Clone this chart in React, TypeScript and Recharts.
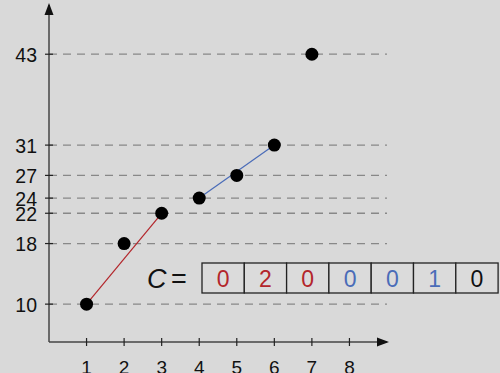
import React from 'react';
import { ComposedChart, Scatter, XAxis, YAxis, ReferenceLine } from 'recharts';

// points on the plot
const xs = [1, 2, 3, 4, 5, 6, 7];
const ys = [10, 18, 22, 24, 27, 31, 43];
const points = xs.map((x, i) => ({ x, y: ys[i] }));

// the two coloured segments
const redSeg = [{ x: 1, y: 10 }, { x: 3, y: 22 }];
const blueSeg = [{ x: 4, y: 24 }, { x: 6, y: 31 }];

const xTicks = [1, 2, 3, 4, 5, 6, 7, 8];
const yTicks = [10, 18, 22, 24, 27, 31, 43];

// C array shown in boxes
const cValues = [0, 2, 0, 0, 0, 1, 0];
const cColors = ['#b3262b', '#b3262b', '#b3262b', '#4a6cb8', '#4a6cb8', '#4a6cb8', '#111'];

const RED = '#b3262b';
const BLUE = '#4a6cb8';
const FONT = '"Liberation Sans", Arial, Helvetica, sans-serif';

const XTick = (props: any) => {
  const { x, y, payload } = props;
  return (
    <g>
      <line x1={x} x2={x} y1={y - 4} y2={y + 4} stroke="#222" strokeWidth={1.2} />
      <text x={x} y={y + 32} textAnchor="middle" fontSize={19} fill="#111" fontFamily={FONT}>
        {payload.value}
      </text>
    </g>
  );
};

const YTick = (props: any) => {
  const { x, y, payload } = props;
  return (
    <g>
      <line x1={x - 4} x2={x + 4} y1={y} y2={y} stroke="#222" strokeWidth={1.2} />
      <text x={x - 12} y={y + 7.5} textAnchor="end" fontSize={19.5} fill="#111" fontFamily={FONT}>
        {payload.value}
      </text>
    </g>
  );
};

const Dot = (props: any) => <circle cx={props.cx} cy={props.cy} r={6.5} fill="#000" />;
const NoDot = () => <g />;

export default function App() {
  const boxLeft = 202;
  const boxW = 42.3;
  return (
    <div style={{ position: 'fixed', left: 0, top: 0, width: 500, height: 373, background: '#d9d9d9', overflow: 'hidden' }}>
      <ComposedChart
        width={500}
        height={373}
        margin={{ top: 5, right: 113, bottom: 0, left: 0 }}
      >
        {yTicks.map((t) => (
          <ReferenceLine
            key={t}
            y={t}
            stroke="#888"
            strokeWidth={1.3}
            strokeDasharray="8 6"
          />
        ))}
        <XAxis
          type="number"
          dataKey="x"
          domain={[0, 9]}
          ticks={xTicks}
          height={31}
          tickSize={0}
          tickMargin={0}
          tickLine={false}
          axisLine={{ stroke: '#444', strokeWidth: 1.5 }}
          tick={<XTick />}
          interval={0}
        />
        <YAxis
          type="number"
          dataKey="y"
          domain={[5, 49.5]}
          ticks={yTicks}
          width={49}
          tickSize={0}
          tickMargin={0}
          tickLine={false}
          axisLine={{ stroke: '#444', strokeWidth: 1.5 }}
          tick={<YTick />}
          interval={0}
        />
        <Scatter data={redSeg} line={{ stroke: RED, strokeWidth: 1.2 }} shape={<NoDot />} isAnimationActive={false} />
        <Scatter data={blueSeg} line={{ stroke: BLUE, strokeWidth: 1.2 }} shape={<NoDot />} isAnimationActive={false} />
        <Scatter data={points} shape={<Dot />} isAnimationActive={false} />
      </ComposedChart>
      <svg width={500} height={373} style={{ position: 'absolute', left: 0, top: 0, pointerEvents: 'none' }}>
        {/* axis arrowheads */}
        <polygon points="49,3 44.5,15 53.5,15" fill="#111" />
        <polygon points="389,342 377,337.5 377,346.5" fill="#111" />
        <text x={147} y={288} fontSize={27} fontStyle="italic" fill="#111" fontFamily={FONT}>C</text>
        <text x={171} y={288} fontSize={27} fill="#111" fontFamily={FONT}>=</text>
        {cValues.map((v, i) => (
          <g key={i}>
            <rect
              x={boxLeft + i * boxW}
              y={263}
              width={boxW}
              height={30}
              fill="#dbdbdb"
              stroke="#222"
              strokeWidth={1.3}
            />
            <text
              x={boxLeft + i * boxW + boxW / 2}
              y={287}
              textAnchor="middle"
              fontSize={23}
              fill={cColors[i]}
              fontFamily={FONT}
            >
              {v}
            </text>
          </g>
        ))}
      </svg>
    </div>
  );
}
